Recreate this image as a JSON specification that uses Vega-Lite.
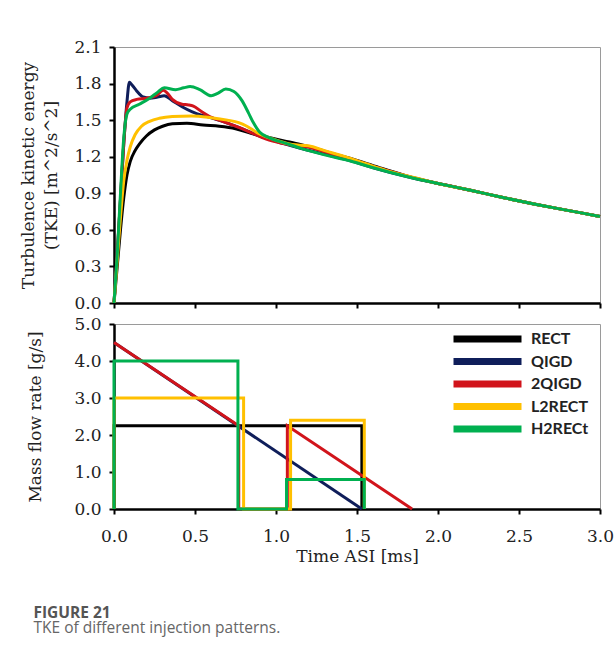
{
  "$schema": "https://vega.github.io/schema/vega-lite/v6.json",
  "padding": {"left": 19, "top": 37, "right": 10, "bottom": 5},
  "config": {
    "font": "DejaVu Serif",
    "view": {"stroke": "#9a9a9a", "strokeWidth": 1},
    "axis": {"domainColor": "#000", "domainWidth": 2.5, "tickColor": "#000", "tickWidth": 2, "tickSize": 5, "grid": false, "labelFlush": false, "labelFont": "DejaVu Serif", "labelFontSize": 17, "labelColor": "#222", "labelPadding": 8, "titleFont": "DejaVu Serif", "titleFontSize": 17, "titleFontWeight": "normal", "titleColor": "#222"}
  },
  "datasets": {
    "tke": [
      {"s":"RECT","t":0,"v":0},{"s":"RECT","t":0.02,"v":0.3},{"s":"RECT","t":0.04,"v":0.6},{"s":"RECT","t":0.06,"v":0.86},{"s":"RECT","t":0.08,"v":1.05},{"s":"RECT","t":0.1,"v":1.16},{"s":"RECT","t":0.13,"v":1.25},{"s":"RECT","t":0.16,"v":1.31},{"s":"RECT","t":0.2,"v":1.37},{"s":"RECT","t":0.25,"v":1.42},{"s":"RECT","t":0.3,"v":1.45},{"s":"RECT","t":0.36,"v":1.47},{"s":"RECT","t":0.45,"v":1.475},{"s":"RECT","t":0.55,"v":1.46},{"s":"RECT","t":0.65,"v":1.45},{"s":"RECT","t":0.75,"v":1.43},{"s":"RECT","t":0.85,"v":1.39},{"s":"RECT","t":0.95,"v":1.36},{"s":"RECT","t":1.05,"v":1.33},{"s":"RECT","t":1.15,"v":1.3},{"s":"RECT","t":1.25,"v":1.265},{"s":"RECT","t":1.35,"v":1.225},{"s":"RECT","t":1.5,"v":1.17},{"s":"RECT","t":1.65,"v":1.105},{"s":"RECT","t":1.8,"v":1.045},{"s":"RECT","t":2.0,"v":0.98},{"s":"RECT","t":2.2,"v":0.925},{"s":"RECT","t":2.4,"v":0.865},{"s":"RECT","t":2.6,"v":0.81},{"s":"RECT","t":2.8,"v":0.76},{"s":"RECT","t":3.0,"v":0.71},
      {"s":"QIGD","t":0,"v":0},{"s":"QIGD","t":0.02,"v":0.4},{"s":"QIGD","t":0.04,"v":0.85},{"s":"QIGD","t":0.06,"v":1.3},{"s":"QIGD","t":0.08,"v":1.65},{"s":"QIGD","t":0.095,"v":1.81},{"s":"QIGD","t":0.11,"v":1.79},{"s":"QIGD","t":0.14,"v":1.74},{"s":"QIGD","t":0.18,"v":1.69},{"s":"QIGD","t":0.22,"v":1.68},{"s":"QIGD","t":0.27,"v":1.69},{"s":"QIGD","t":0.31,"v":1.7},{"s":"QIGD","t":0.36,"v":1.66},{"s":"QIGD","t":0.42,"v":1.61},{"s":"QIGD","t":0.48,"v":1.57},{"s":"QIGD","t":0.54,"v":1.54},{"s":"QIGD","t":0.6,"v":1.52},{"s":"QIGD","t":0.67,"v":1.49},{"s":"QIGD","t":0.77,"v":1.44},{"s":"QIGD","t":0.86,"v":1.39},{"s":"QIGD","t":0.94,"v":1.35},{"s":"QIGD","t":1.04,"v":1.31},{"s":"QIGD","t":1.15,"v":1.27},{"s":"QIGD","t":1.3,"v":1.22},{"s":"QIGD","t":1.45,"v":1.17},{"s":"QIGD","t":1.6,"v":1.11},{"s":"QIGD","t":1.8,"v":1.04},{"s":"QIGD","t":2.0,"v":0.98},{"s":"QIGD","t":2.2,"v":0.925},{"s":"QIGD","t":2.4,"v":0.865},{"s":"QIGD","t":2.6,"v":0.81},{"s":"QIGD","t":2.8,"v":0.76},{"s":"QIGD","t":3.0,"v":0.71},
      {"s":"2QIGD","t":0,"v":0},{"s":"2QIGD","t":0.02,"v":0.4},{"s":"2QIGD","t":0.04,"v":0.85},{"s":"2QIGD","t":0.06,"v":1.3},{"s":"2QIGD","t":0.08,"v":1.6},{"s":"2QIGD","t":0.1,"v":1.65},{"s":"2QIGD","t":0.14,"v":1.67},{"s":"2QIGD","t":0.2,"v":1.68},{"s":"2QIGD","t":0.26,"v":1.7},{"s":"2QIGD","t":0.305,"v":1.745},{"s":"2QIGD","t":0.33,"v":1.72},{"s":"2QIGD","t":0.36,"v":1.67},{"s":"2QIGD","t":0.42,"v":1.63},{"s":"2QIGD","t":0.46,"v":1.625},{"s":"2QIGD","t":0.49,"v":1.615},{"s":"2QIGD","t":0.54,"v":1.57},{"s":"2QIGD","t":0.59,"v":1.53},{"s":"2QIGD","t":0.67,"v":1.49},{"s":"2QIGD","t":0.77,"v":1.44},{"s":"2QIGD","t":0.86,"v":1.39},{"s":"2QIGD","t":0.94,"v":1.345},{"s":"2QIGD","t":1.04,"v":1.31},{"s":"2QIGD","t":1.12,"v":1.29},{"s":"2QIGD","t":1.2,"v":1.28},{"s":"2QIGD","t":1.3,"v":1.24},{"s":"2QIGD","t":1.45,"v":1.185},{"s":"2QIGD","t":1.6,"v":1.12},{"s":"2QIGD","t":1.8,"v":1.045},{"s":"2QIGD","t":2.0,"v":0.98},{"s":"2QIGD","t":2.2,"v":0.925},{"s":"2QIGD","t":2.4,"v":0.865},{"s":"2QIGD","t":2.6,"v":0.81},{"s":"2QIGD","t":2.8,"v":0.76},{"s":"2QIGD","t":3.0,"v":0.71},
      {"s":"L2RECT","t":0,"v":0},{"s":"L2RECT","t":0.02,"v":0.35},{"s":"L2RECT","t":0.04,"v":0.7},{"s":"L2RECT","t":0.06,"v":1.0},{"s":"L2RECT","t":0.08,"v":1.17},{"s":"L2RECT","t":0.1,"v":1.28},{"s":"L2RECT","t":0.13,"v":1.38},{"s":"L2RECT","t":0.17,"v":1.45},{"s":"L2RECT","t":0.22,"v":1.49},{"s":"L2RECT","t":0.28,"v":1.515},{"s":"L2RECT","t":0.36,"v":1.53},{"s":"L2RECT","t":0.48,"v":1.535},{"s":"L2RECT","t":0.6,"v":1.52},{"s":"L2RECT","t":0.7,"v":1.5},{"s":"L2RECT","t":0.77,"v":1.48},{"s":"L2RECT","t":0.82,"v":1.45},{"s":"L2RECT","t":0.88,"v":1.4},{"s":"L2RECT","t":0.98,"v":1.345},{"s":"L2RECT","t":1.1,"v":1.3},{"s":"L2RECT","t":1.2,"v":1.29},{"s":"L2RECT","t":1.3,"v":1.25},{"s":"L2RECT","t":1.45,"v":1.19},{"s":"L2RECT","t":1.56,"v":1.14},{"s":"L2RECT","t":1.7,"v":1.08},{"s":"L2RECT","t":1.85,"v":1.03},{"s":"L2RECT","t":2.0,"v":0.98},{"s":"L2RECT","t":2.2,"v":0.925},{"s":"L2RECT","t":2.4,"v":0.865},{"s":"L2RECT","t":2.6,"v":0.81},{"s":"L2RECT","t":2.8,"v":0.76},{"s":"L2RECT","t":3.0,"v":0.71},
      {"s":"H2RECt","t":0,"v":0},{"s":"H2RECt","t":0.02,"v":0.4},{"s":"H2RECt","t":0.04,"v":0.9},{"s":"H2RECt","t":0.06,"v":1.35},{"s":"H2RECt","t":0.08,"v":1.55},{"s":"H2RECt","t":0.1,"v":1.59},{"s":"H2RECt","t":0.156,"v":1.63},{"s":"H2RECt","t":0.22,"v":1.68},{"s":"H2RECt","t":0.27,"v":1.73},{"s":"H2RECt","t":0.31,"v":1.765},{"s":"H2RECt","t":0.38,"v":1.75},{"s":"H2RECt","t":0.43,"v":1.765},{"s":"H2RECt","t":0.47,"v":1.775},{"s":"H2RECt","t":0.53,"v":1.75},{"s":"H2RECt","t":0.6,"v":1.7},{"s":"H2RECt","t":0.64,"v":1.72},{"s":"H2RECt","t":0.69,"v":1.755},{"s":"H2RECt","t":0.74,"v":1.735},{"s":"H2RECt","t":0.79,"v":1.66},{"s":"H2RECt","t":0.83,"v":1.56},{"s":"H2RECt","t":0.86,"v":1.48},{"s":"H2RECt","t":0.9,"v":1.4},{"s":"H2RECt","t":0.96,"v":1.355},{"s":"H2RECt","t":1.06,"v":1.31},{"s":"H2RECt","t":1.15,"v":1.27},{"s":"H2RECt","t":1.3,"v":1.215},{"s":"H2RECt","t":1.46,"v":1.165},{"s":"H2RECt","t":1.6,"v":1.11},{"s":"H2RECt","t":1.8,"v":1.04},{"s":"H2RECt","t":2.0,"v":0.98},{"s":"H2RECt","t":2.2,"v":0.925},{"s":"H2RECt","t":2.4,"v":0.865},{"s":"H2RECt","t":2.6,"v":0.81},{"s":"H2RECt","t":2.8,"v":0.76},{"s":"H2RECt","t":3.0,"v":0.71}
    ],
    "mfr": [
      {"s":"RECT","i":0,"t":0,"v":0},{"s":"RECT","i":1,"t":0,"v":2.25},{"s":"RECT","i":2,"t":1.53,"v":2.25},{"s":"RECT","i":3,"t":1.53,"v":0},
      {"s":"QIGD","i":0,"t":0,"v":4.5},{"s":"QIGD","i":1,"t":1.53,"v":0},
      {"s":"2QIGD","i":0,"t":0,"v":4.5},{"s":"2QIGD","i":1,"t":0.77,"v":2.25},{"s":"2QIGD","i":2,"t":0.77,"v":0},{"s":"2QIGD","i":3,"t":1.07,"v":0},{"s":"2QIGD","i":4,"t":1.07,"v":2.25},{"s":"2QIGD","i":5,"t":1.84,"v":0},
      {"s":"L2RECT","i":0,"t":0,"v":0},{"s":"L2RECT","i":1,"t":0,"v":3.0},{"s":"L2RECT","i":2,"t":0.8,"v":3.0},{"s":"L2RECT","i":3,"t":0.8,"v":0},{"s":"L2RECT","i":4,"t":1.09,"v":0},{"s":"L2RECT","i":5,"t":1.09,"v":2.4},{"s":"L2RECT","i":6,"t":1.545,"v":2.4},{"s":"L2RECT","i":7,"t":1.545,"v":0},
      {"s":"H2RECt","i":0,"t":0,"v":0},{"s":"H2RECt","i":1,"t":0,"v":4.0},{"s":"H2RECt","i":2,"t":0.765,"v":4.0},{"s":"H2RECt","i":3,"t":0.765,"v":0},{"s":"H2RECt","i":4,"t":1.065,"v":0},{"s":"H2RECt","i":5,"t":1.065,"v":0.8},{"s":"H2RECt","i":6,"t":1.545,"v":0.8},{"s":"H2RECt","i":7,"t":1.545,"v":0}
    ]
  },
  "title": {
    "text": "FIGURE 21",
    "subtitle": "TKE of different injection patterns.",
    "orient": "bottom",
    "anchor": "start",
    "dx": 14,
    "offset": 41,
    "font": "Open Sans",
    "fontSize": 15.5,
    "fontWeight": "bold",
    "color": "#555555",
    "subtitleFont": "Open Sans",
    "subtitleFontSize": 15.5,
    "subtitleColor": "#666666",
    "subtitlePadding": 0
  },
  "spacing": 2,
  "resolve": {"legend": {"color": "independent"}},
  "vconcat": [
    {
      "width": 486,
      "height": 256,
      "data": {"name": "tke"},
      "mark": {"type": "line", "strokeWidth": 3, "interpolate": "monotone"},
      "encoding": {
        "x": {"field": "t", "type": "quantitative", "scale": {"domain": [0, 3], "nice": false}, "axis": {"values": [0, 0.5, 1, 1.5, 2, 2.5, 3], "labels": false, "title": null}},
        "y": {"field": "v", "type": "quantitative", "scale": {"domain": [0, 2.1], "nice": false}, "axis": {"values": [0, 0.3, 0.6, 0.9, 1.2, 1.5, 1.8, 2.1], "format": ".1f", "title": ["Turbulence kinetic energy", "(TKE) [m^2/s^2]"], "titlePadding": 13, "titleLineHeight": 23}},
        "color": {"field": "s", "type": "nominal", "scale": {"domain": ["RECT", "QIGD", "2QIGD", "L2RECT", "H2RECt"], "range": ["#000000", "#0f1e5a", "#d1141b", "#ffc000", "#00b050"]}, "legend": null}
      }
    },
    {
      "width": 486,
      "height": 185,
      "data": {"name": "mfr"},
      "mark": {"type": "line", "strokeWidth": 3},
      "encoding": {
        "x": {"field": "t", "type": "quantitative", "scale": {"domain": [0, 3], "nice": false}, "axis": {"values": [0, 0.5, 1, 1.5, 2, 2.5, 3], "format": ".1f", "labelPadding": 14, "title": "Time ASI [ms]", "titlePadding": 4}},
        "y": {"field": "v", "type": "quantitative", "scale": {"domain": [0, 5], "nice": false}, "axis": {"values": [0, 1, 2, 3, 4, 5], "format": ".1f", "title": "Mass flow rate [g/s]", "titlePadding": 29}},
        "order": {"field": "i", "type": "quantitative"},
        "color": {"field": "s", "type": "nominal", "scale": {"domain": ["RECT", "QIGD", "2QIGD", "L2RECT", "H2RECt"], "range": ["#000000", "#0f1e5a", "#d1141b", "#ffc000", "#00b050"]}, "legend": {"orient": "none", "legendX": 331.5, "legendY": 6.5, "title": null, "symbolType": "M0,0H34", "symbolSize": 16, "symbolStrokeWidth": 7, "clipHeight": 17, "labelFont": "Lato", "labelFontWeight": "bold", "labelFontSize": 16, "labelColor": "#222222", "labelOffset": 69.5, "rowPadding": 5.5}}
      }
    }
  ]
}
